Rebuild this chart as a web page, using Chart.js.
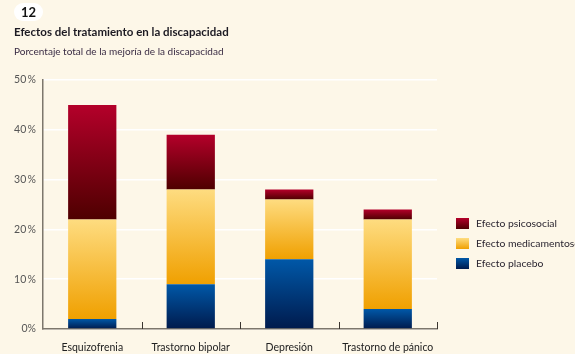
<!DOCTYPE html>
<html lang="es">
<head>
    <meta charset="UTF-8">
    <title>Efectos del tratamiento en la discapacidad</title>
    <script src="https://cdn.jsdelivr.net/npm/chart.js"></script>
    <style>
        body { margin: 0; background: #fdf7e8; font-family: Lato, "Open Sans", sans-serif; }
        #wrap { position: relative; width: 575px; height: 354px; overflow: hidden; }
        #num { position: absolute; left: 14px; top: 3px; width: 29px; height: 18px; background: #fff;
               border-radius: 9px; font-weight: bold; font-size: 13px; line-height: 18px; text-align: center; color: #111; }
        #title { position: absolute; left: 14px; top: 25px; font-weight: bold; font-size: 11.5px; color: #1c1a22; }
        #sub { position: absolute; left: 14px; top: 45px; font-size: 10px; color: #3a2c44; }
        canvas { position: absolute; left: 0; top: 0; }
    </style>
</head>
<body>
<div id="wrap">
    <canvas id="myChart" width="575" height="354"></canvas>
    <div id="num">12</div>
    <div id="title">Efectos del tratamiento en la discapacidad</div>
    <div id="sub">Porcentaje total de la mejoría de la discapacidad</div>
</div>

<script>
    // datos (% de mejoría)
    const categorias = ["Esquizofrenia", "Trastorno bipolar", "Depresión", "Trastorno de pánico"];
    const placebo = [2, 9, 14, 4];
    const medicamentoso = [20, 19, 12, 18];
    const psicosocial = [23, 11, 2, 2];
    const yTicks = [0, 10, 20, 30, 40, 50];

    const series = [placebo, medicamentoso, psicosocial];
    const colores = [
        ["#0058a8", "#001a4c"],   // placebo
        ["#fedc80", "#f0a000"],   // medicamentoso
        ["#b4002a", "#4e0000"]    // psicosocial
    ];

    function gradiente(ds) {
        return function (context) {
            const chart = context.chart;
            const y = chart.scales && chart.scales.y;
            if (!y || !chart.chartArea || context.dataIndex === undefined) return colores[ds][1];
            let base = 0;
            for (let k = 0; k < ds; k++) base += series[k][context.dataIndex];
            const top = y.getPixelForValue(base + series[ds][context.dataIndex]);
            const bot = y.getPixelForValue(base);
            if (!isFinite(top) || !isFinite(bot)) return colores[ds][1];
            const g = chart.ctx.createLinearGradient(0, top, 0, bot);
            g.addColorStop(0, colores[ds][0]);
            g.addColorStop(1, colores[ds][1]);
            return g;
        };
    }

    // leyenda y marcas del eje x
    const extras = {
        id: "extras",
        afterDraw(chart) {
            const ctx = chart.ctx;
            const x = chart.scales.x;
            const bottom = chart.chartArea.bottom;
            ctx.save();
            ctx.strokeStyle = "#3a3530";
            ctx.lineWidth = 1;
            for (let i = 0; i < categorias.length; i++) {
                const px = i < categorias.length - 1
                    ? (x.getPixelForValue(i) + x.getPixelForValue(i + 1)) / 2
                    : chart.chartArea.right;
                ctx.beginPath();
                ctx.moveTo(Math.round(px) + 0.5, bottom - 7);
                ctx.lineTo(Math.round(px) + 0.5, bottom);
                ctx.stroke();
            }
            const items = [
                ["Efecto psicosocial", 2],
                ["Efecto medicamentoso", 1],
                ["Efecto placebo", 0]
            ];
            ctx.font = "10.4px Lato, 'Open Sans', sans-serif";
            ctx.textBaseline = "middle";
            items.forEach((it, j) => {
                const yy = 218 + j * 20;
                const g = ctx.createLinearGradient(0, yy, 0, yy + 11);
                g.addColorStop(0, colores[it[1]][0]);
                g.addColorStop(1, colores[it[1]][1]);
                ctx.fillStyle = g;
                ctx.fillRect(456, yy, 13, 11);
                ctx.fillStyle = "#2a2530";
                ctx.fillText(it[0], 476, yy + 6);
            });
            ctx.restore();
        }
    };

    const ctx = document.getElementById("myChart").getContext("2d");
    new Chart(ctx, {
        type: "bar",
        data: {
            labels: categorias,
            datasets: [
                { label: "Efecto placebo", data: placebo, backgroundColor: gradiente(0) },
                { label: "Efecto medicamentoso", data: medicamentoso, backgroundColor: gradiente(1) },
                { label: "Efecto psicosocial", data: psicosocial, backgroundColor: gradiente(2) }
            ]
        },
        options: {
            responsive: false,
            animation: false,
            barPercentage: 0.49,
            categoryPercentage: 1,
            layout: { padding: { left: 0, right: 138, top: 80, bottom: 0 } },
            plugins: { legend: { display: false }, tooltip: { enabled: false } },
            scales: {
                x: {
                    stacked: true,
                    grid: { display: false },
                    border: { color: "#7d776c", width: 1.5 },
                    ticks: { color: "#222", font: { family: "Lato", size: 10.5 }, padding: 4, maxRotation: 0 },
                    afterFit(s) { s.height = 25; }
                },
                y: {
                    stacked: true,
                    min: 0, max: 50,
                    afterBuildTicks(s) { s.ticks = yTicks.map(v => ({ value: v })); },
                    grid: { color: "#ffffff", lineWidth: 1.5, drawTicks: false },
                    border: { color: "#7d776c", width: 1.5 },
                    ticks: {
                        color: "#555", font: { family: "Lato", size: 10.5 }, padding: 7,
                        callback: v => v === 0 ? "0%" : v + "\u2009%"
                    },
                    afterFit(s) { s.width = 43; }
                }
            }
        },
        plugins: [extras]
    });
</script>
</body>
</html>
